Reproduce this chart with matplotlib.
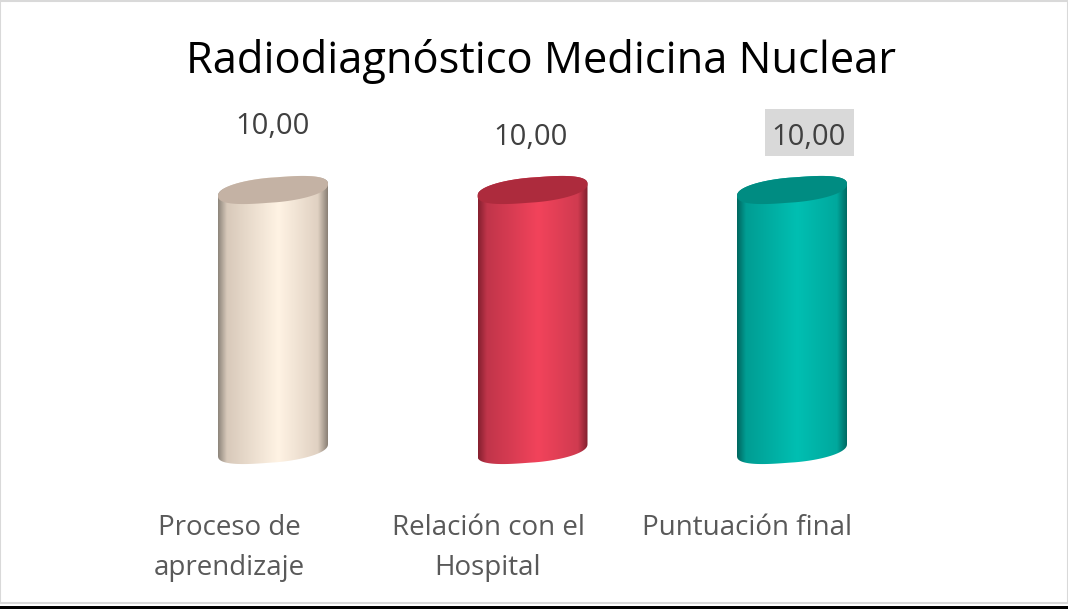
#! /usr/bin/env python
import numpy as np
import matplotlib
matplotlib.use('Agg')
import matplotlib.pyplot as plt
from matplotlib.colors import LinearSegmentedColormap
from matplotlib.patches import PathPatch, Polygon, Rectangle
from matplotlib.path import Path

title = 'Radiodiagnóstico Medicina Nuclear'
categories = ['Proceso de\naprendizaje', 'Relación con el\nHospital', 'Puntuación final']
values = [10.0, 10.0, 10.0]

side_colors = [
    ['#8d857b', '#d8c9ba', '#fff3e4', '#e0d1c2', '#8a8076'],
    ['#85202f', '#c0354a', '#f2435b', '#d03b50', '#80202e'],
    ['#00665f', '#009d93', '#00bfb2', '#00a89d', '#006a63'],
]
top_colors = ['#c4b2a4', '#ad2b3d', '#008c82']

W, H = 1068, 609
plt.rcParams['font.family'] = ['Open Sans', 'DejaVu Sans']
fig = plt.figure(figsize=(W / 100, H / 100), dpi=100)
ax = fig.add_axes([0, 0, 1, 1])

# data axes: category 0 at px 273, spacing 259.5 px; value 0 at y px 450, 10 at y px 190
px_x = 259.5
px_y = 26.0
ax.axis('off')

half_w = 55 / px_x
tilt = 6 / px_y
minor = 12.5 / px_y


def ellipse(cx, cy, t):
    # slightly squarer than a true ellipse, the ends of the caps are round in the original
    c = np.sign(np.cos(t)) * np.abs(np.cos(t)) ** 0.85
    s = np.sign(np.sin(t)) * np.abs(np.sin(t)) ** 0.85
    return cx + half_w * c, cy + minor * s + tilt * np.cos(t)


def cylinder(i, val):
    t_top = np.linspace(0, np.pi, 60)
    t_bot = np.linspace(np.pi, 2 * np.pi, 60)
    xt, yt = ellipse(i, val, t_top)
    xb, yb = ellipse(i, 0, t_bot)
    outline = np.column_stack([np.r_[xt, xb], np.r_[yt, yb]])

    cmap = LinearSegmentedColormap.from_list(
        'side', list(zip([0, 0.08, 0.55, 0.91, 1], side_colors[i])))
    grad = np.linspace(0, 1, 256).reshape(1, -1)
    im = ax.imshow(grad, cmap=cmap, aspect='auto', zorder=2,
                   extent=[i - half_w, i + half_w, -2, val + 2])
    im.set_clip_path(PathPatch(Path(np.r_[outline, outline[:1]]), transform=ax.transData))

    t = np.linspace(0, 2 * np.pi, 120)
    xc, yc = ellipse(i, val, t)
    ax.add_patch(Polygon(np.column_stack([xc, yc]), closed=True, fc=top_colors[i], ec='none', zorder=3))


for i, v in enumerate(values):
    cylinder(i, v)
ax.set_xlim(-273 / px_x, (W - 273) / px_x)
ax.set_ylim((450 - H) / px_y, 450 / px_y)


# labels, in figure pixels
def fx(p):
    return p / W


def fy(p):
    return 1 - p / H


fig.text(fx(541.5), fy(61), title, ha='center', va='center', fontsize=31.3, color='black')

label_px = [(273, 126), (530, 137), (809, 137)]
fig.patches.append(Rectangle((fx(765), fy(156)), 89 / W, 47 / H, transform=fig.transFigure,
                             fc='#d9d9d9', ec='none', zorder=1))
for v, (x, y) in zip(values, label_px):
    fig.text(fx(x), fy(y), '{:.2f}'.format(v).replace('.', ','), ha='center', va='center',
             fontsize=21, color='#404040', zorder=5)

for i, c in enumerate(categories):
    for j, line in enumerate(c.split('\n')):
        fig.text(fx([229, 488, 747][i]), fy(528 + 39.5 * j), line, ha='center', va='center',
                 fontsize=20, color='#595959')

# chart frame and the black rule at the bottom
fig.patches.append(Rectangle((0, fy(603)), 1, (603 - 1) / H, transform=fig.transFigure,
                             fc='none', ec='#d9d9d9', lw=1.5))
fig.patches.append(Rectangle((0, 0), 1, 3 / H, transform=fig.transFigure, fc='black', ec='none'))

fig.savefig('out.png', dpi=100)
